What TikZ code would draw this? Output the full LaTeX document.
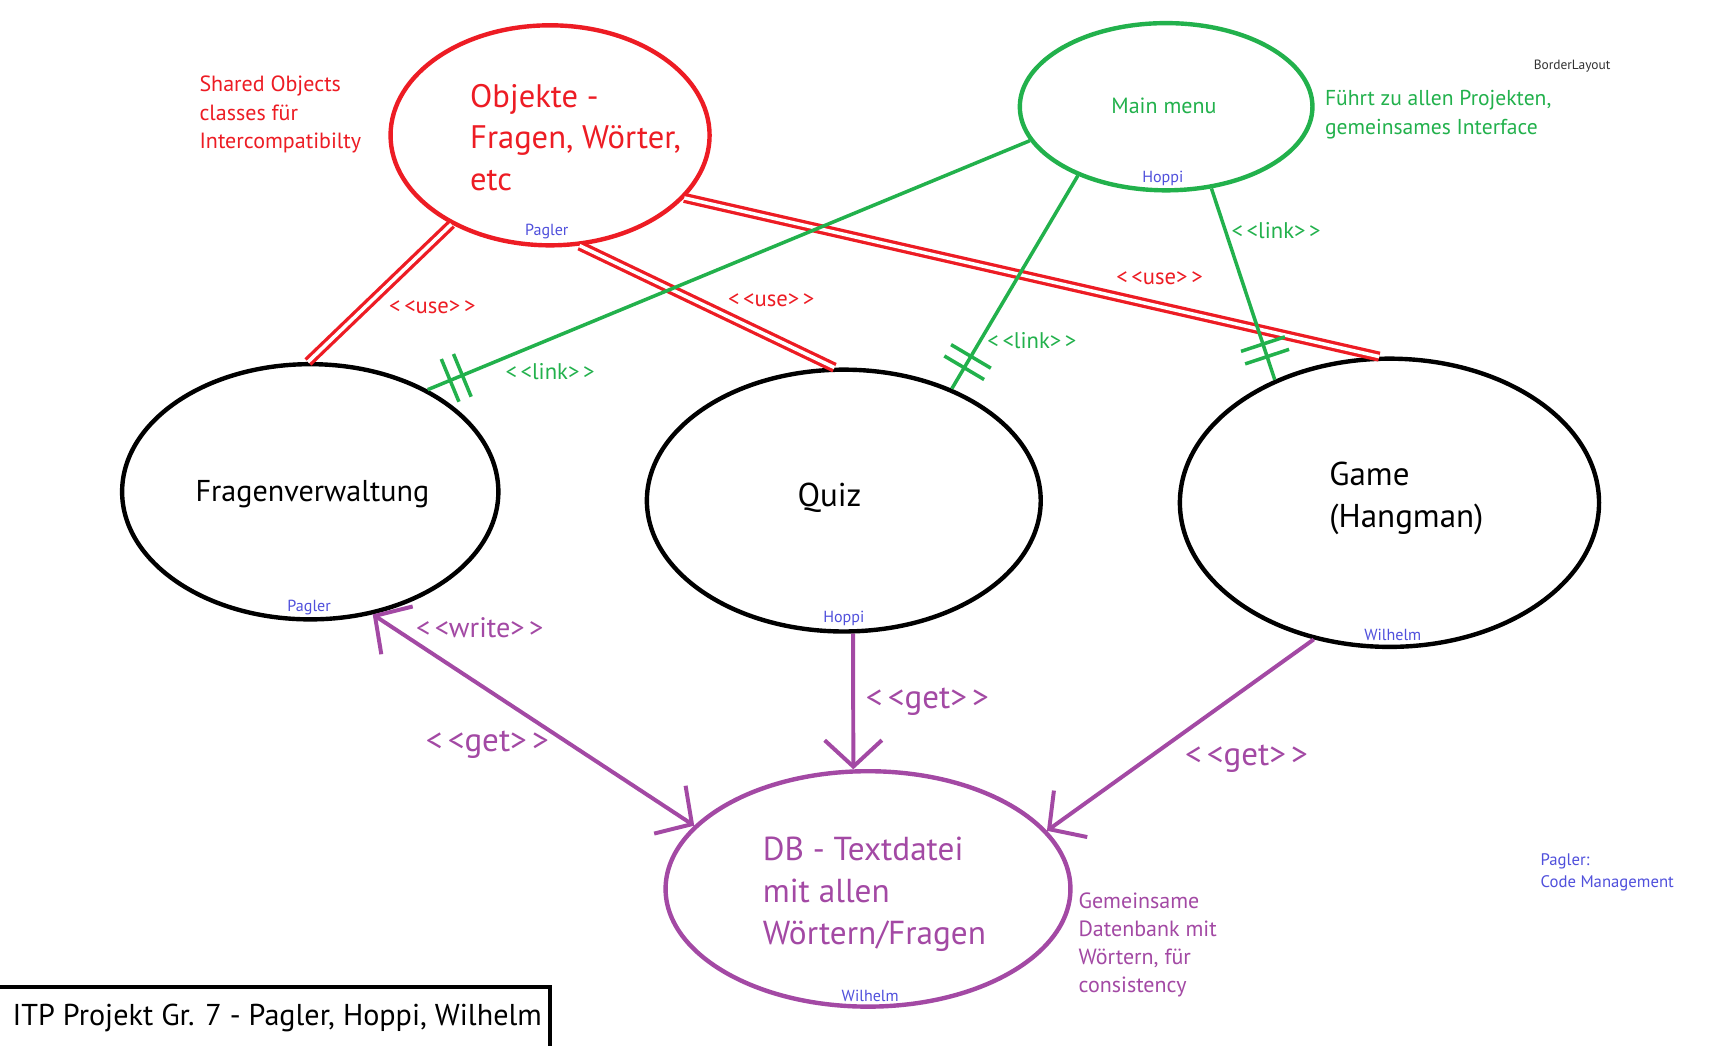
\documentclass[tikz,border=0pt]{standalone}
\usepackage{fontspec}
\setmainfont{PT Sans}
\usetikzlibrary{shapes.geometric,arrows.meta,decorations.markings}
\definecolor{pred}{HTML}{ED1C24}
\definecolor{pgreen}{HTML}{22B14C}
\definecolor{ppurple}{HTML}{A349A4}
\definecolor{pblue}{HTML}{5050DC}
\newcommand\stereo[1]{<\kern.16em<#1>\kern.16em>}
\newcommand\fsz[2]{\fontsize{#1}{#2}\selectfont}
\begin{document}
\begin{tikzpicture}[x=0.5pt,y=-0.5pt,
  bubble/.style={ellipse, draw, line width=2pt, inner sep=0pt},
  txt/.style={inner sep=0pt, align=left},
  mainlbl/.style={inner sep=0pt, font=\fsz{15}{19}},
  who/.style={inner sep=0pt, text=pblue, font=\fsz{7.3}{9}},
  uselink/.style={draw=pred, line width=1.5pt, double=white, double distance=1.6pt},
  uselbl/.style={inner sep=0pt, text=pred, font=\fsz{10.3}{12}},
  linkbar/.style={draw=pgreen, line width=1.6pt},
  greenlink/.style={draw=pgreen, line width=1.6pt, postaction={decorate},
    decoration={markings,
      mark=at position -11pt with {\draw[linkbar] (0pt,-10.5pt) -- (0pt,10.5pt);},
      mark=at position -17pt with {\draw[linkbar] (0pt,-10.5pt) -- (0pt,10.5pt);}}},
  linklbl/.style={inner sep=0pt, text=pgreen, font=\fsz{10.3}{12}},
  getarrow/.style={draw=ppurple, line width=1.8pt, >={Straight Barb[length=12pt,width=26pt]}},
  getlbl/.style={inner sep=0pt, text=ppurple, font=\fsz{15}{17}},
]
\useasboundingbox (0,0) rectangle (1568,950);
\fill[white] (0,0) rectangle (1568,950);

% ellipses
\node[bubble, draw=pred, minimum width=145pt, minimum height=100pt] (obj) at (500,123) {};
\node[bubble, draw=pgreen, minimum width=133pt, minimum height=76pt] (menu) at (1060,97) {};
\node[bubble, minimum width=171pt, minimum height=116pt] (frag) at (282,447) {};
\node[bubble, minimum width=179pt, minimum height=119pt] (quiz) at (767,455) {};
\node[bubble, minimum width=190.5pt, minimum height=131pt] (game) at (1263,457) {};
\node[bubble, draw=ppurple, minimum width=184pt, minimum height=107pt] (db) at (789,808) {};

% texts inside
\node[txt, anchor=west, text=pred, font=\fsz{14.8}{19}] (objtxt) at (427,125) {Objekte -\\Fragen, Wörter,\\etc};
\node[inner sep=0pt, text=pgreen, font=\fsz{10}{12}] (menutxt) at (1058,96) {Main menu};
\node[inner sep=0pt, font=\fsz{13.7}{19}] (fragtxt) at (284,449) {Fragenverwaltung};
\node[mainlbl] (quiztxt) at (754,452) {Quiz};
\node[txt, anchor=west, font=\fsz{15}{19}] (gametxt) at (1208,453) {Game\\(Hangman)};
\node[txt, anchor=west, text=ppurple, font=\fsz{15.1}{19}] (dbtxt) at (693,813) {DB - Textdatei\\mit allen\\Wörtern/Fragen};

% owners
\node[who] (objwho) at (497,210) {Pagler};
\node[who] (menuwho) at (1057,162) {Hoppi};
\node[who] (fragwho) at (281,552) {Pagler};
\node[who] (quizwho) at (767,562) {Hoppi};
\node[who] (gamewho) at (1266,577) {Wilhelm};
\node[who] (dbwho) at (791,905) {Wilhelm};

% annotations
\node[txt, anchor=west, text=pred, font=\fsz{10}{12.75}] (objnote) at (181,104) {Shared Objects\\classes für\\Intercompatibilty};
\node[txt, anchor=west, text=pgreen, font=\fsz{9.8}{13}] (menunote) at (1204,104) {Führt zu allen Projekten,\\gemeinsames Interface};
\node[txt, anchor=west, text=ppurple, font=\fsz{10}{12.8}] (dbnote) at (980,859) {Gemeinsame\\Datenbank mit\\Wörtern, für\\consistency};
\node[txt, anchor=west, text=pblue, font=\fsz{7.6}{10}] (mgmt) at (1400,793) {Pagler:\\Code Management};
\node[inner sep=0pt, text=black!80, font=\fsz{6.1}{8}] (layout) at (1429,60) {BorderLayout};

% use connectors
\draw[uselink] (obj.-138.7) -- (frag.91);
\draw[uselink] (obj.-75) -- (quiz.94);
\draw[uselink] (obj.-25) -- (game.94);
\node[uselbl] (use1) at (393,279) {\stereo{use}};
\node[uselbl] (use2) at (701,273) {\stereo{use}};
\node[uselbl] (use3) at (1054,253) {\stereo{use}};

% link connectors
\draw[greenlink] (menu.-166.5) -- (frag.41.8);
\draw[greenlink] (menu.-142.7) -- (quiz.46.8);
\draw[greenlink] (menu.-61.9) -- (game.133.7);
\node[linklbl] (link1) at (500,338) {\stereo{link}};
\node[linklbl] (link2) at (938,310) {\stereo{link}};
\node[linklbl] (link3) at (1160,210) {\stereo{link}};

% get connectors
\draw[getarrow, <->] (frag.-63.4) -- (db.160.9);
\draw[getarrow, ->] (quiz.-86) -- (db.97.5);
\draw[getarrow, ->] (game.-119.3) -- (db.18.9);
\node[inner sep=0pt, text=ppurple, font=\fsz{12.8}{14}] (write) at (436,571) {\stereo{write}};
\node[getlbl] (get1) at (443,677) {\stereo{get}};
\node[getlbl] (get2) at (843,638) {\stereo{get}};
\node[getlbl] (get3) at (1133,690) {\stereo{get}};

% title box
\node[inner sep=0pt, font=\fsz{13.7}{15}] (title) at (252,925) {ITP Projekt Gr. 7 - Pagler, Hoppi, Wilhelm};
\draw[line width=2pt] (-5,897) -| (500,965);
\end{tikzpicture}
\end{document}
